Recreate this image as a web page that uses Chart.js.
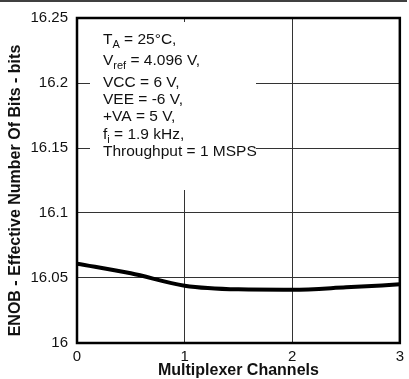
<!DOCTYPE html>
<html>
<head>
<meta charset="utf-8">
<script src="https://cdn.jsdelivr.net/npm/chart.js@4.4.1/dist/chart.umd.min.js"></script>
<style>
  html, body { margin: 0; padding: 0; background: #fff; }
</style>
</head>
<body>
<canvas id="enobChart" width="409" height="379"></canvas>
<script>
// values
const channels = [0, 0.5, 1, 1.5, 2, 2.5, 3];
const enob = [16.061, 16.0536, 16.0441, 16.0413, 16.041, 16.0428, 16.0451];
const xTicks = [0, 1, 2, 3];
const yTicks = [16, 16.05, 16.1, 16.15, 16.2, 16.25];
const yTickLabels = ['16', '16.05', '16.1', '16.15', '16.2', '16.25'];
const xTitle = 'Multiplexer Channels';
const yTitle = 'ENOB - Effective Number Of Bits - bits';
// each line: [text, isSubscript]
const conditions = [
  [['T', false], ['A', true], [' = 25°C,', false]],
  [['V', false], ['ref', true], [' = 4.096 V,', false]],
  [['VCC = 6 V,', false]],
  [['VEE = -6 V,', false]],
  [['+VA = 5 V,', false]],
  [['f', false], ['i', true], [' = 1.9 kHz,', false]],
  [['Throughput = 1 MSPS', false]],
];

const FONT = 'Liberation Sans, Arial, sans-serif';

const conditionsBox = {
  id: 'conditionsBox',
  beforeDatasetsDraw(chart) {
    const { ctx, chartArea: a } = chart;
    ctx.save();
    ctx.fillStyle = '#fff';
    ctx.fillRect(a.left + 13, a.top + 4, 166, 168);
    ctx.fillStyle = '#111';
    ctx.textBaseline = 'middle';
    const lineY = [22, 43, 65, 82, 99, 117, 134];
    conditions.forEach((parts, i) => {
      let x = a.left + 26;
      const y = a.top + lineY[i];
      parts.forEach(([txt, sub]) => {
        ctx.font = (sub ? '11px ' : '15.5px ') + FONT;
        ctx.fillText(txt, x, sub ? y + 5 : y);
        x += ctx.measureText(txt).width;
      });
    });
    ctx.restore();
  },
  afterDraw(chart) {
    const { ctx, chartArea: a } = chart;
    ctx.save();
    ctx.strokeStyle = '#000';
    ctx.lineWidth = 2.5;
    ctx.strokeRect(a.left, a.top, a.right - a.left, a.bottom - a.top);
    ctx.lineWidth = 1.5;
    ctx.beginPath();
    ctx.moveTo(0, 1);
    ctx.lineTo(407, 1);
    ctx.stroke();
    // y title sits a bit below the axis centre in the original
    ctx.translate(16, (a.top + a.bottom) / 2 + 10);
    ctx.rotate(-Math.PI / 2);
    ctx.font = 'bold 16px ' + FONT;
    ctx.fillStyle = '#111';
    ctx.textAlign = 'center';
    ctx.textBaseline = 'middle';
    ctx.fillText(yTitle, 0, 0);
    ctx.restore();
  },
};

new Chart(document.getElementById('enobChart'), {
  type: 'line',
  data: {
    datasets: [
      {
        data: channels.map((x, i) => ({ x: x, y: enob[i] })),
        borderColor: '#000',
        borderWidth: 4,
        pointRadius: 0,
        cubicInterpolationMode: 'monotone',
      },
    ],
  },
  options: {
    responsive: false,
    animation: false,
    devicePixelRatio: 1,
    layout: { padding: { top: 18, right: 5, left: 0, bottom: 0 } },
    plugins: { legend: { display: false }, tooltip: { enabled: false } },
    scales: {
      x: {
        type: 'linear',
        min: 0,
        max: 3,
        afterBuildTicks: (s) => {
          s.ticks = xTicks.map((v) => ({ value: v }));
        },
        afterFit: (s) => {
          s.height = 36;
        },
        grid: { color: '#333', lineWidth: 1, drawTicks: false },
        border: { display: false },
        ticks: {
          color: '#111',
          padding: 5,
          maxRotation: 0,
          font: { family: FONT, size: 15 },
        },
        title: {
          display: true,
          text: xTitle,
          color: '#111',
          padding: 0,
          font: { family: FONT, size: 16, weight: 'bold', lineHeight: 1 },
        },
      },
      y: {
        type: 'linear',
        min: 16,
        max: 16.25,
        afterBuildTicks: (s) => {
          s.ticks = yTicks.map((v) => ({ value: v }));
        },
        afterFit: (s) => {
          s.width = 77;
        },
        grid: { color: '#333', lineWidth: 1, drawTicks: false },
        border: { display: false },
        ticks: {
          color: '#111',
          padding: 9,
          font: { family: FONT, size: 15 },
          callback: (v, i) => yTickLabels[i],
        },
        title: { display: false },
      },
    },
  },
  plugins: [conditionsBox],
});
</script>
</body>
</html>
